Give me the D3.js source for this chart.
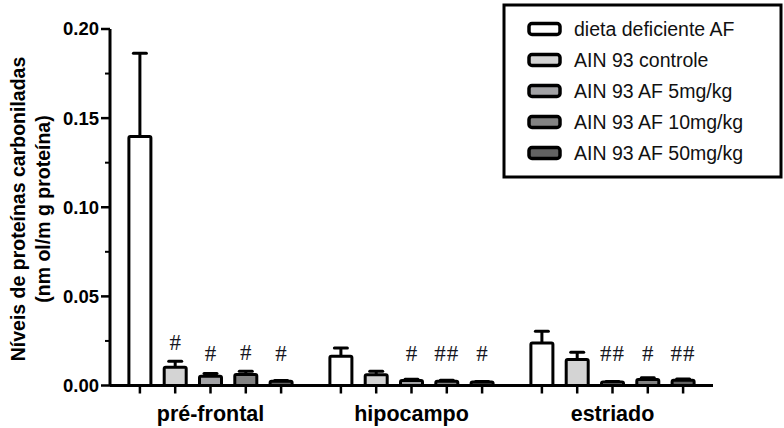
<!DOCTYPE html>
<html><head><meta charset="utf-8">
<script src="https://cdn.jsdelivr.net/npm/d3@7"></script>
<style>body{margin:0;background:#fff}svg{display:block}</style>
</head><body>
<script>
const regions = ["pré-frontal", "hipocampo", "estriado"];
const groups = ["dieta deficiente AF", "AIN 93 controle", "AIN 93 AF 5mg/kg", "AIN 93 AF 10mg/kg", "AIN 93 AF 50mg/kg"];
const fills = ["#ffffff", "#d4d4d4", "#a2a2a5", "#828282", "#626262"];
// mean values per region (rows) by group (cols)
const means = [
  [0.1397, 0.0103, 0.0052, 0.0062, 0.0024],
  [0.0164, 0.0060, 0.0028, 0.0024, 0.0019],
  [0.0239, 0.0146, 0.0020, 0.0034, 0.0030]
];
const sems = [
  [0.0467, 0.0033, 0.0015, 0.0018, 0.0004],
  [0.0047, 0.0020, 0.0007, 0.0006, 0.0003],
  [0.0065, 0.0041, 0.0002, 0.0009, 0.0007]
];
const marks = [
  ["", "#", "#", "#", "#"],
  ["", "", "#", "##", "#"],
  ["", "", "##", "#", "##"]
];
const yTicks = [0, 0.05, 0.10, 0.15, 0.20];
const yMinorTicks = [0.025, 0.075, 0.125, 0.175];

const W = 784, H = 428;
const svg = d3.select("body").append("svg").attr("width", W).attr("height", H);

const y = d3.scaleLinear().domain([0, 0.2]).range([385.5, 29]);
const x0 = d3.scaleBand().domain(regions).range([110, 713]);
const x1 = d3.scalePoint().domain(d3.range(groups.length)).range([-70.6, 70.6]);
const bw = 22;

// Y axis
const yAxis = svg.append("g").attr("transform", "translate(110,0)");
yAxis.append("line").attr("x1", 0).attr("x2", 0).attr("y1", y(0.2)).attr("y2", y(0))
  .attr("stroke", "#000").attr("stroke-width", 3);
yAxis.selectAll(".maj").data(yTicks).join("line")
  .attr("x1", -9).attr("x2", 0).attr("y1", d => y(d)).attr("y2", d => y(d))
  .attr("stroke", "#000").attr("stroke-width", 2.5);
yAxis.selectAll(".min").data(yMinorTicks).join("line")
  .attr("x1", -5).attr("x2", 0).attr("y1", d => y(d)).attr("y2", d => y(d))
  .attr("stroke", "#000").attr("stroke-width", 2);
yAxis.selectAll("text").data(yTicks).join("text")
  .attr("x", -11).attr("y", d => y(d)).attr("dy", "0.35em")
  .attr("text-anchor", "end")
  .attr("font-family", "Liberation Sans, Arial, sans-serif")
  .attr("font-weight", "bold").attr("font-size", 18.5)
  .text(d => d3.format(".2f")(d));

// Y title
const yt = svg.append("text")
  .attr("transform", `translate(25,209) rotate(-90)`)
  .attr("text-anchor", "middle")
  .attr("font-family", "Liberation Sans, Arial, sans-serif")
  .attr("font-weight", "bold").attr("font-size", 19.5);
yt.append("tspan").attr("x", 0).attr("dy", 0).text("Níveis de proteínas carboniladas");
yt.append("tspan").attr("x", 0).attr("dy", 25).text("(nm ol/m g proteína)");

// X axis
svg.append("line").attr("x1", 110).attr("x2", 713).attr("y1", y(0)).attr("y2", y(0))
  .attr("stroke", "#000").attr("stroke-width", 3);

const gRegion = svg.selectAll(".region").data(regions).join("g")
  .attr("transform", d => `translate(${x0(d) + x0.bandwidth()/2},0)`);

gRegion.each(function(r, ri) {
  const g = d3.select(this);
  const data = groups.map((gname, gi) => ({gi, m: means[ri][gi], s: sems[ri][gi], mark: marks[ri][gi]}));
  // ticks
  g.selectAll(".tk").data(data).join("line")
    .attr("x1", d => x1(d.gi)).attr("x2", d => x1(d.gi))
    .attr("y1", y(0)).attr("y2", y(0) + 8)
    .attr("stroke", "#000").attr("stroke-width", 2.5);
  // error bars
  g.selectAll(".eb").data(data).join("line")
    .attr("x1", d => x1(d.gi)).attr("x2", d => x1(d.gi))
    .attr("y1", d => y(d.m)).attr("y2", d => y(d.m + d.s))
    .attr("stroke", "#000").attr("stroke-width", 3);
  g.selectAll(".cap").data(data).join("line")
    .attr("x1", d => x1(d.gi) - 6.5).attr("x2", d => x1(d.gi) + 6.5)
    .attr("y1", d => y(d.m + d.s)).attr("y2", d => y(d.m + d.s))
    .attr("stroke", "#000").attr("stroke-width", 3).attr("stroke-linecap", "round");
  // bars
  g.selectAll(".bar").data(data).join("rect")
    .attr("x", d => x1(d.gi) - bw/2).attr("width", bw)
    .attr("y", d => y(d.m)).attr("height", d => y(0) - y(d.m))
    .attr("fill", d => fills[d.gi]).attr("stroke", "#000").attr("stroke-width", 3)
    .attr("rx", 1.5);
  // significance marks
  g.selectAll(".mk").data(data.filter(d => d.mark)).join("text")
    .attr("x", d => x1(d.gi))
    .attr("y", d => Math.min(353, y(d.m + d.s) - 19))
    .attr("dy", "0.35em")
    .attr("text-anchor", "middle")
    .attr("font-family", "Liberation Serif, Times New Roman, serif")
    .attr("font-size", 23).attr("letter-spacing", d => d.mark.length > 1 ? "1px" : "0")
    .attr("fill", "#151520")
    .text(d => d.mark);
  // label
  g.append("text").attr("x", 0).attr("y", 421)
    .attr("text-anchor", "middle")
    .attr("font-family", "Liberation Sans, Arial, sans-serif")
    .attr("font-weight", "bold").attr("font-size", 21.5)
    .text(r);
});

// Legend
const lg = svg.append("g");
lg.append("rect").attr("x", 504).attr("y", 5).attr("width", 277).attr("height", 172)
  .attr("fill", "#fff").attr("stroke", "#000").attr("stroke-width", 3);
const ly = d3.scalePoint().domain(d3.range(groups.length)).range([29, 153]);
const li = lg.selectAll(".li").data(groups).join("g")
  .attr("transform", (d, i) => `translate(0,${ly(i)})`);
li.append("rect").attr("x", 529).attr("y", -5.5).attr("width", 31).attr("height", 11)
  .attr("rx", 3).attr("fill", (d, i) => fills[i]).attr("stroke", "#000").attr("stroke-width", 3.5);
li.append("text").attr("x", 574).attr("y", 0).attr("dy", "0.35em")
  .attr("font-family", "Liberation Sans, Arial, sans-serif").attr("font-size", 19.5)
  .attr("fill", "#111")
  .text(d => d);
</script>
</body></html>
